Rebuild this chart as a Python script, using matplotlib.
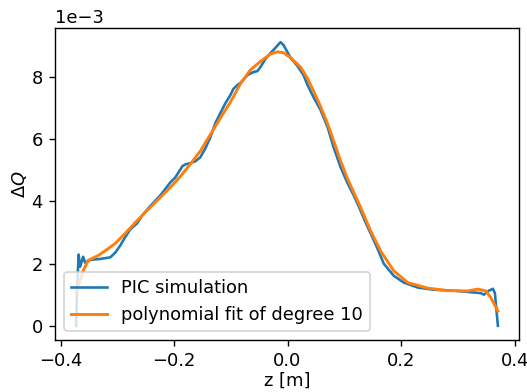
import numpy as np
import matplotlib
matplotlib.use("Agg")
import matplotlib.pyplot as plt

plt.rcParams['font.size'] = 10.3

# PIC simulation (z in m, dQ in units of 1e-3)
z_pic = [-0.3725, -0.3707, -0.3681, -0.3654, -0.3601, -0.3566, -0.3477, -0.3301,
         -0.3124, -0.3036, -0.2948, -0.2860, -0.2771, -0.2648, -0.2560, -0.2418,
         -0.2242, -0.2065, -0.1977, -0.1853, -0.1801, -0.1712, -0.1624, -0.1536,
         -0.1447, -0.1359, -0.1271, -0.1183, -0.1094, -0.1006, -0.0953, -0.0883,
         -0.0830, -0.0706, -0.0600, -0.0530, -0.0477, -0.0388, -0.0300, -0.0212,
         -0.0124, -0.0071, 0.0053, 0.0177, 0.0282, 0.0353, 0.0459, 0.0582,
         0.0706, 0.0812, 0.0935, 0.1059, 0.1165, 0.1253, 0.1377, 0.1465,
         0.1589, 0.1695, 0.1871, 0.2048, 0.2295, 0.2577, 0.2930, 0.3230,
         0.3407, 0.3460, 0.3548, 0.3619, 0.3654, 0.3707]
dq_pic = [0.0, 1.2, 2.29, 1.9, 2.22, 2.03, 2.12, 2.15,
          2.2, 2.35, 2.58, 2.85, 3.1, 3.3, 3.55, 3.85,
          4.19, 4.61, 4.77, 5.13, 5.19, 5.23, 5.29, 5.42,
          5.71, 6.06, 6.52, 6.84, 7.16, 7.42, 7.62, 7.74,
          7.81, 8.06, 8.16, 8.19, 8.32, 8.58, 8.77, 8.94,
          9.12, 9.03, 8.62, 8.35, 8.06, 7.74, 7.35, 6.94,
          6.39, 5.74, 5.1, 4.58, 4.2, 3.85, 3.32, 2.97,
          2.47, 2.0, 1.61, 1.39, 1.23, 1.16, 1.13, 1.08,
          1.05, 1.0, 1.13, 1.19, 1.05, 0.0]

# polynomial fit of degree 10
z_fit = [-0.3725, -0.3601, -0.3513, -0.3336, -0.3160, -0.3036, -0.2860, -0.2683,
         -0.2507, -0.2330, -0.2154, -0.2065, -0.1889, -0.1712, -0.1536, -0.1359,
         -0.1183, -0.1006, -0.0830, -0.0653, -0.0477, -0.0300, -0.0177, -0.0071,
         0.0053, 0.0230, 0.0353, 0.0459, 0.0582, 0.0706, 0.0812, 0.0935,
         0.1059, 0.1165, 0.1289, 0.1465, 0.1642, 0.1871, 0.2118, 0.2471,
         0.2824, 0.3177, 0.3354, 0.3495, 0.3583, 0.3672, 0.3707]
dq_fit = [1.07, 1.77, 2.1, 2.26, 2.48, 2.65, 2.97, 3.32,
          3.65, 3.97, 4.29, 4.45, 4.8, 5.2, 5.62, 6.15,
          6.68, 7.19, 7.78, 8.23, 8.5, 8.74, 8.81, 8.78,
          8.62, 8.32, 7.95, 7.55, 7.05, 6.5, 5.95, 5.3,
          4.72, 4.3, 3.8, 3.05, 2.4, 1.77, 1.39, 1.21,
          1.13, 1.12, 1.18, 1.12, 0.9, 0.6, 0.47]

xticks = [-0.4, -0.2, 0.0, 0.2, 0.4]

DPI = 125
fig = plt.figure(figsize=(527 / DPI, 392 / DPI), dpi=DPI)
ax = fig.add_axes([0.1044, 0.1327, 0.8804, 0.7959])
ax.plot(z_pic, np.array(dq_pic) * 1e-3, color='#1f77b4', lw=1.5, label='PIC simulation')
ax.plot(z_fit, np.array(dq_fit) * 1e-3, color='#ff7f0e', lw=1.7, label='polynomial fit of degree 10')
ax.set_xticks(xticks)
ax.ticklabel_format(axis='y', style='sci', scilimits=(0, 0))
ax.set_xlabel('z [m]', labelpad=1.0)
ax.set_ylabel(r'$\Delta Q$', labelpad=1.5)
ax.legend(loc='lower left')
fig.savefig('out.png', dpi=DPI)
